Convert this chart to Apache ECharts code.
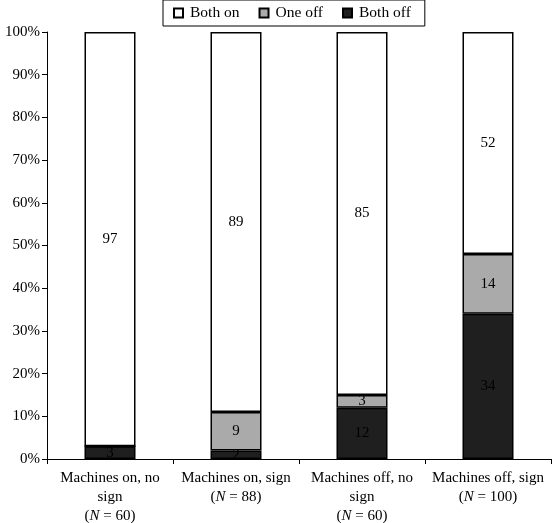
<!DOCTYPE html>
<html>
<head>
<meta charset="utf-8">
<script src="https://cdn.jsdelivr.net/npm/echarts@6/dist/echarts.min.js"></script>
<style>html,body{margin:0;padding:0;background:#fff}#c{width:552px;height:523px}</style>
</head>
<body>
<div id="c"></div>
<script>
const categories = [
  ['Machines on, no', 'sign', '60'],
  ['Machines on, sign', null, '88'],
  ['Machines off, no', 'sign', '60'],
  ['Machines off, sign', null, '100']
];
const bothOff = [3, 2, 12, 34];
const oneOff = [0, 9, 3, 14];
const bothOn = [97, 89, 85, 52];
const yTicks = [0, 10, 20, 30, 40, 50, 60, 70, 80, 90, 100];

const catNames = categories.map(c => c[0] + (c[1] ? '\n' + c[1] : ''));
const FONT = 'Liberation Serif';
const chart = echarts.init(document.getElementById('c'));
function labelFmt(p) { return p.value > 0 ? String(p.value) : ''; }
const seriesBase = {
  type: 'bar', stack: 'total', barWidth: 51,
  label: { show: true, position: 'inside', color: '#000', fontFamily: FONT, fontSize: 15, formatter: labelFmt },
};
chart.setOption({
  animation: false,
  textStyle: { fontFamily: FONT },
  grid: { left: 47, right: 1, top: 32, bottom: 64, containLabel: false, outerBoundsMode: 'none' },
  legend: {
    top: 0, left: 163,
    data: ['Both on', 'One off', 'Both off'],
    itemWidth: 9, itemHeight: 9, itemGap: 19,
    padding: [5, 14, 5, 10],
    borderColor: '#000', borderWidth: 1, backgroundColor: '#fff',
    icon: 'rect',
    textStyle: { fontFamily: FONT, fontSize: 15.5, color: '#000', padding: [0, 0, 0, 2] }
  },
  xAxis: {
    type: 'category',
    data: catNames,
    axisLine: { lineStyle: { color: '#000', width: 1 } },
    axisTick: { show: true, alignWithLabel: false, length: 5, lineStyle: { color: '#000' } },
    axisLabel: {
      interval: 0, margin: 10, color: '#000', fontFamily: FONT, fontSize: 15, lineHeight: 19,
      formatter: function (v, i) {
        const c = categories[i];
        let s = c[0];
        if (c[1]) s += '\n' + c[1];
        s += '\n({i|N} = ' + c[2] + ')';
        return s;
      },
      rich: { i: { fontStyle: 'italic', fontFamily: FONT, fontSize: 15, color: '#000', lineHeight: 19 } }
    }
  },
  yAxis: {
    type: 'value', min: 0, max: 100, interval: 10,
    axisLine: { show: true, lineStyle: { color: '#000', width: 1 } },
    axisTick: { show: true, length: 5, lineStyle: { color: '#000' } },
    splitLine: { show: false },
    axisLabel: {
      color: '#000', fontFamily: FONT, fontSize: 15, margin: 7,
      formatter: v => yTicks.includes(v) ? v + '%' : ''
    }
  },
  series: [
    Object.assign({}, seriesBase, {
      name: 'Both off', data: bothOff,
      itemStyle: { color: '#1f1f1f', borderColor: '#000', borderWidth: 1.5 }
    }),
    Object.assign({}, seriesBase, {
      name: 'One off', data: oneOff,
      itemStyle: { color: '#aaaaaa', borderColor: '#000', borderWidth: 1.5 }
    }),
    Object.assign({}, seriesBase, {
      name: 'Both on', data: bothOn,
      itemStyle: { color: '#ffffff', borderColor: '#000', borderWidth: 1.5 }
    })
  ]
});
</script>
</body>
</html>
